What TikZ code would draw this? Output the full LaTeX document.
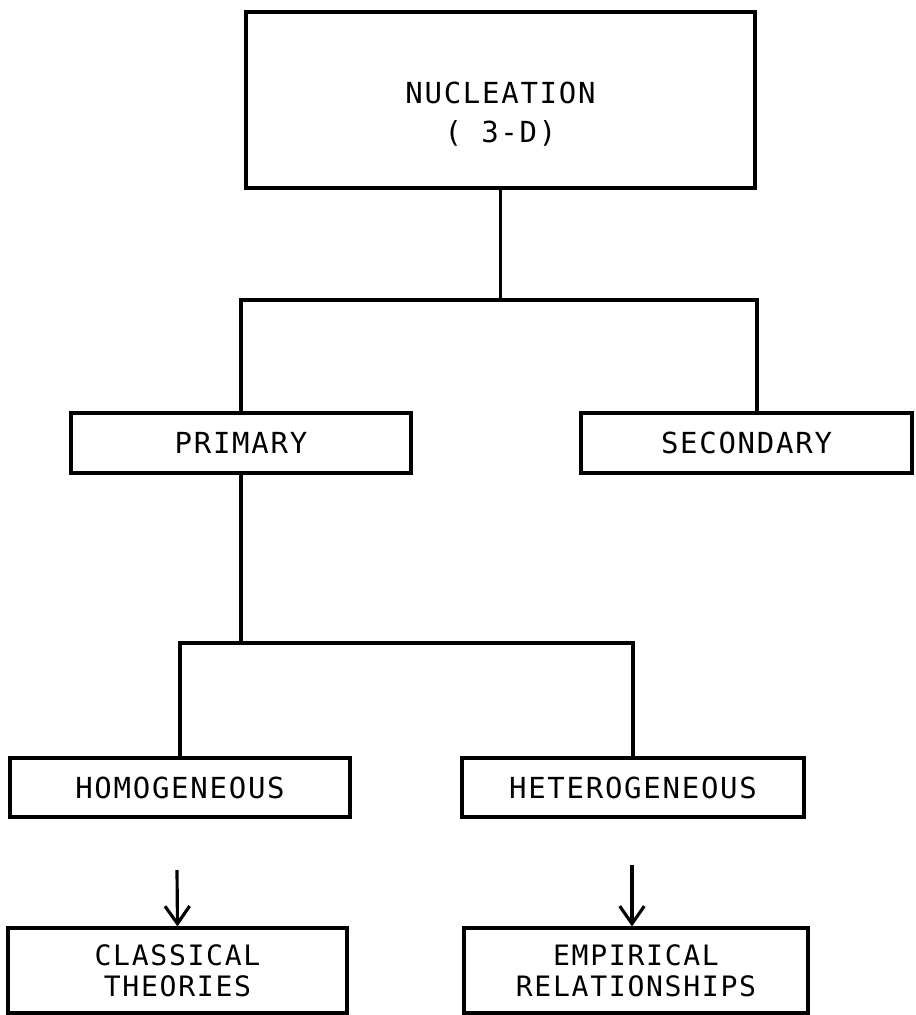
\documentclass[tikz,border=0pt]{standalone}
\usepackage{fontspec}
\newfontfamily\plotfont[LetterSpace=6]{DejaVu Sans Mono}
\usetikzlibrary{arrows.meta}

\begin{document}
\begin{tikzpicture}[x=0.02cm,y=-0.02cm,
    box/.style={draw,line width=1.8pt,inner sep=0pt,align=center,
      font=\plotfont\fontsize{16.5}{22}\selectfont},
    link/.style={line width=1.8pt},
    arr/.style={line width=1.8pt,-{Straight Barb[length=10pt,width=14pt]}}]
  \useasboundingbox (0,0) rectangle (916,1015);

  \node[box,minimum width=10.18cm,minimum height=3.52cm] (nuc) at (500.5,100) {\rule{0pt}{1cm}NUCLEATION\\( 3-D)};

  \node[box,minimum width=6.8cm,minimum height=1.2cm] (prim) at (241,443) {PRIMARY};
  \node[box,minimum width=6.62cm,minimum height=1.2cm] (sec) at (746.5,443) {SECONDARY};

  \node[box,minimum width=6.8cm,minimum height=1.18cm] (homo) at (180,787.5) {HOMOGENEOUS};
  \node[box,minimum width=6.84cm,minimum height=1.18cm] (hetero) at (633,787.5) {HETEROGENEOUS};

  \node[box,minimum width=6.78cm,minimum height=1.7cm,
    font=\plotfont\fontsize{16}{17.5}\selectfont] (clas) at (177.5,970.5) {CLASSICAL\\THEORIES};
  \node[box,minimum width=6.88cm,minimum height=1.7cm,
    font=\plotfont\fontsize{16}{17.5}\selectfont] (emp) at (636,970.5) {EMPIRICAL\\RELATIONSHIPS};

  \coordinate (top) at (497,300);
  \coordinate (rdrop) at (757,413);
  \coordinate (mid) at (238,643);
  \coordinate (a1) at (177,870);
  \coordinate (a2) at (632,865);

  \draw[link] (nuc.south) -- (nuc.south |- top);
  \draw[link] (prim.north) |- (top) -| (rdrop);
  \draw[link] (prim.south) -- (prim.south |- mid);
  \draw[link] (homo.north) |- (mid) -| (hetero.north);

  \draw[arr] (a1) -- (clas.north);
  \draw[arr] (a2) -- (a2 |- emp.north);
\end{tikzpicture}
\end{document}
